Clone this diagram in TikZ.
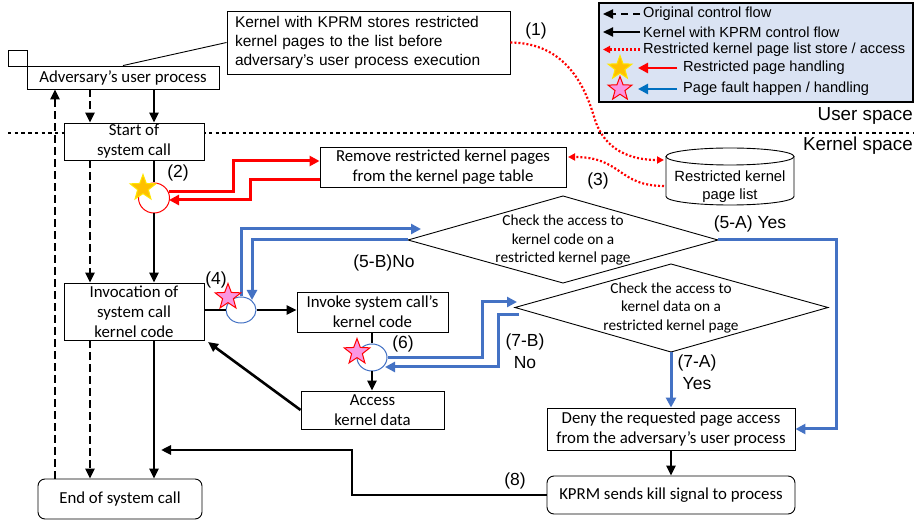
\documentclass[tikz,border=0pt]{standalone}
\usepackage{fontspec}
\setmainfont{Carlito}
\newfontfamily\arialf{Liberation Sans}
\usetikzlibrary{arrows.meta,shapes.geometric}

\definecolor{kblue}{RGB}{68,114,196}
\definecolor{legblue}{RGB}{0,112,192}
\definecolor{kred}{RGB}{255,0,0}
\definecolor{legfill}{RGB}{218,227,243}
\definecolor{goldfill}{RGB}{255,192,0}
\definecolor{goldedge}{RGB}{255,230,0}
\definecolor{pinkfill}{RGB}{250,150,225}

\begin{document}
\begin{tikzpicture}[x=1pt,y=-1pt,
  box/.style={draw, line width=0.9pt, fill=white, inner sep=0pt, align=center,
    font=\fontsize{16.8}{20}\selectfont},
  rbox/.style={box, rounded corners=7pt},
  cbox/.style={draw, line width=0.9pt, fill=white, inner xsep=8pt, inner ysep=0pt,
    text width=267pt, minimum height=63pt, align=left,
    font=\arialf\fontsize{15.5}{19}\selectfont},
  dtext/.style={align=center, inner sep=0pt, font=\fontsize{15.3}{18.5}\selectfont},
  lbl/.style={inner sep=0pt, align=center, font=\arialf\fontsize{17.5}{21.5}\selectfont},
  legtext/.style={inner sep=0pt, anchor=west, font=\arialf\fontsize{14.6}{18}\selectfont},
  flow/.style={line width=2.6pt, -{Triangle[length=10pt,width=9pt]}},
  orig/.style={flow, dash pattern=on 7.5pt off 4.5pt},
  bflow/.style={draw=kblue, line width=3pt, -{Triangle[length=10pt,width=10pt]}, color=kblue},
  rflow/.style={draw=kred, line width=3pt, -{Triangle[length=10pt,width=10pt]}, color=kred},
  rdot/.style={draw=kred, line width=2.2pt, dash pattern=on 2pt off 2pt,
    -{Triangle[length=7pt,width=7pt]}, color=kred},
  bring/.style={ellipse, draw=kblue, line width=1pt, fill=white, inner sep=0pt,
    minimum width=30pt, minimum height=26pt},
  ystar/.style={star, star points=5, star point ratio=2.4, inner sep=0pt,
    minimum size=27pt, fill=goldfill, draw=goldedge, line width=1pt},
  pstar/.style={star, star points=5, star point ratio=2.4, inner sep=0pt,
    minimum size=27pt, fill=pinkfill, draw=kred, line width=1pt},
]
\useasboundingbox (0,0) rectangle (922,521);

% user / kernel divider
\draw[line width=2.8pt, dash pattern=on 3.4pt off 3.3pt] (8,133) -- (913,133);

% ---------- nodes ----------
\node[box, minimum width=192pt, minimum height=23pt] (adv) at (123,77.5) {Adversary’s user process};
\node[draw, line width=0.9pt, fill=white, minimum width=19pt, minimum height=16pt, inner sep=0pt] (corner) at (17.5,58) {};
\node[cbox] (callout) at (368.5,42.5) {Kernel with KPRM stores restricted\\kernel pages to the list before\\adversary’s user process execution};

\node[box, minimum width=140pt, minimum height=37pt] (start) at (134,141.5) {Start of\\system call};
\node[box, minimum width=246pt, minimum height=40pt] (rmv) at (443,167) {Remove restricted kernel pages\\from the kernel page table};
\node[box, minimum width=140pt, minimum height=57pt] (invo) at (134,311.5) {Invocation of\\system call\\kernel code};
\node[box, minimum width=151pt, minimum height=40pt] (invk) at (372.5,312) {Invoke system call’s\\kernel code};
\node[box, minimum width=143pt, minimum height=38pt] (acc) at (372.5,410) {Access\\kernel data};
\node[rbox, minimum width=164pt, minimum height=40pt] (endsc) at (120,499) {End of system call};
\node[box, minimum width=248pt, minimum height=42pt] (deny) at (671,429) {Deny the requested page access\\from the adversary’s user process};
\node[rbox, minimum width=248pt, minimum height=38pt] (kprm) at (671,495) {KPRM sends kill signal to process};

% restricted kernel page list (cylinder)
\fill[white] (666,156.5) -- (666,196.5) arc[start angle=180, end angle=360, x radius=64pt, y radius=8.5pt] -- (794,156.5) -- cycle;
\draw[line width=0.9pt] (666,156.5) -- (666,196.5) arc[start angle=180, end angle=360, x radius=64pt, y radius=8.5pt] -- (794,156.5);
\draw[line width=0.9pt, fill=white] (730,156.5) ellipse[x radius=64pt, y radius=8.5pt];
\node[inner sep=0pt, align=center, font=\arialf\fontsize{14.8}{18}\selectfont] (cyl) at (730,187) {Restricted kernel\\page list};
\coordinate (cylw1) at (664,160);
\coordinate (cylw2) at (664,186);

% decision diamonds
\coordinate (d1w) at (408,240);
\coordinate (d1n) at (563,196);
\coordinate (d1e) at (718,240);
\coordinate (d1s) at (563,283);
\draw[line width=0.9pt, fill=white] (d1w) -- (d1n) -- (d1e) -- (d1s) -- cycle;
\node[dtext] (dia1) at (563,240.5) {Check the access to\\kernel code on a\\restricted kernel page};

\coordinate (d2w) at (515,307.5);
\coordinate (d2n) at (671,264);
\coordinate (d2e) at (828,307.5);
\coordinate (d2s) at (671,352);
\draw[line width=0.9pt, fill=white] (d2w) -- (d2n) -- (d2e) -- (d2s) -- cycle;
\node[dtext] (dia2) at (671,308) {Check the access to\\kernel data on a\\restricted kernel page};

% hook points
\node[ellipse, draw=kred, line width=1pt, fill=white, inner sep=0pt, minimum width=31pt, minimum height=30pt] (circ2) at (154,198) {};
\node[bring] (circ4) at (241,310) {};
\node[bring, minimum height=27pt] (circ6) at (372,357.5) {};

% ---------- labels ----------
\node[lbl] (l1) at (536,31) {(1)};
\node[lbl] (l2) at (178,173) {(2)};
\node[lbl] (l3) at (598,181) {(3)};
\node[lbl] (l4) at (216,280) {(4)};
\node[lbl] (l5b) at (384,263) {(5-B)No};
\node[lbl] (l5a) at (750,224) {(5-A) Yes};
\node[lbl] (l6) at (403,344) {(6)};
\node[lbl] (l7b) at (525,351) {(7-B)\\No};
\node[lbl] (l7a) at (697,372) {(7-A)\\Yes};
\node[lbl] (l8) at (515,481) {(8)};

\node[inner sep=0pt, anchor=east, font=\arialf\fontsize{18.8}{22}\selectfont] (uspace) at (913,116) {User space};
\node[inner sep=0pt, anchor=east, font=\arialf\fontsize{18.8}{22}\selectfont] (kspace) at (913,146) {Kernel space};

% ---------- black control flow ----------
\coordinate (dashx) at (90,0);
\coordinate (upx) at (55,0);
\draw[orig] (adv.south -| dashx) -- (start.north -| dashx);
\draw[flow] (adv.south -| circ2.center) -- (start.north -| circ2.center);
\draw[orig] (start.south -| dashx) -- (invo.north -| dashx);
\draw[line width=2.6pt] (start.south -| circ2.center) -- (circ2.north);
\draw[flow] (circ2.south) -- (invo.north -| circ2.center);
\draw[orig] (invo.south -| dashx) -- (endsc.north -| dashx);
\draw[flow] (invo.south -| circ2.center) -- (endsc.north -| circ2.center);
\draw[orig] (endsc.north -| upx) -- (adv.south -| upx);

\draw[line width=2.6pt] (invo.east |- circ4.west) -- (circ4.west);
\draw[flow] (circ4.east) -- (invk.west |- circ4.east);
\draw[line width=2.6pt] (invk.south -| circ6.north) -- (circ6.north);
\draw[flow] (circ6.south) -- (acc.north -| circ6.south);
\coordinate (accend) at (208,342);
\draw[flow] (acc.west) -- (accend);
\draw[flow] (deny.south) -- (kprm.north);
\coordinate (killc) at (352,450);
\coordinate (killend) at (161,450);
\draw[flow] (kprm.west) -| (killc) -- (killend);

% connector of the note
\draw[line width=0.9pt] (adv.north) -- (callout.west);

% ---------- restricted page handling (red) ----------
\coordinate (r1s) at (169,192);
\coordinate (r1c) at (233,161);
\draw[rflow] (r1s) -| (r1c) -- (r1c -| rmv.west);
\coordinate (r2c) at (250,180);
\coordinate (r2e) at (169,200);
\draw[rflow] (r2c -| rmv.west) -- (r2c) |- (r2e);

% restricted kernel page list store / access
\coordinate (rbend) at (595,120);
\draw[rdot] (callout.east) .. controls (565,43) and (585,85) .. (rbend)
  .. controls (605,150) and (630,160) .. (cylw1);
\coordinate (rmvr) at (568,157);
\draw[rdot] (cylw2) .. controls (618,186) and (622,157) .. (rmvr);

% ---------- page fault handling (blue) ----------
\coordinate (b5in) at (421,229);
\draw[bflow] (circ4.north) |- (b5in);
\coordinate (b5tip) at (252,300);
\draw[bflow] (d1w) -| (b5tip);
\coordinate (a5c) at (836,240);
\draw[bflow] (d1e) -- (a5c) |- (deny.east);
\draw[bflow] (d2s) -- (deny.north);
\coordinate (b7c) at (482,302);
\coordinate (b7in) at (517,302);
\draw[bflow] (circ6.east) -| (b7c) -- (b7in);
\coordinate (b7out) at (519,315);
\coordinate (b7d) at (498,367);
\coordinate (b7tip) at (385,367);
\draw[bflow] (b7out) -| (b7d) -- (b7tip);

% stars on the hook points
\node[ystar] (s2) at (143,188) {};
\node[pstar] (s4) at (228,297) {};
\node[pstar] (s6) at (357,352) {};

% ---------- legend ----------
\node[draw, line width=2.6pt, fill=legfill, minimum width=314pt, minimum height=99pt, inner sep=0pt] (legend) at (756,52.5) {};
\draw[orig, line width=2.2pt] (640,14) -- (603,14);
\node[legtext] (lg1) at (643,14) {Original control flow};
\draw[flow, line width=2.2pt] (640,32) -- (603,32);
\node[legtext] (lg2) at (643,32) {Kernel with KPRM control flow};
\draw[rdot] (640,49.5) -- (603,49.5);
\node[legtext] (lg3) at (643,49.5) {Restricted kernel page list store / access};
\node[ystar, minimum size=25pt] (lgs1) at (620,68) {};
\draw[rflow, line width=2.6pt] (677,68) -- (638,68);
\node[legtext] (lg4) at (683,68) {Restricted page handling};
\node[pstar, minimum size=25pt] (lgs2) at (620,89) {};
\draw[bflow, draw=legblue, color=legblue, line width=2.6pt] (677,89) -- (638,89);
\node[legtext] (lg5) at (683,89) {Page fault happen / handling};
\end{tikzpicture}
\end{document}
